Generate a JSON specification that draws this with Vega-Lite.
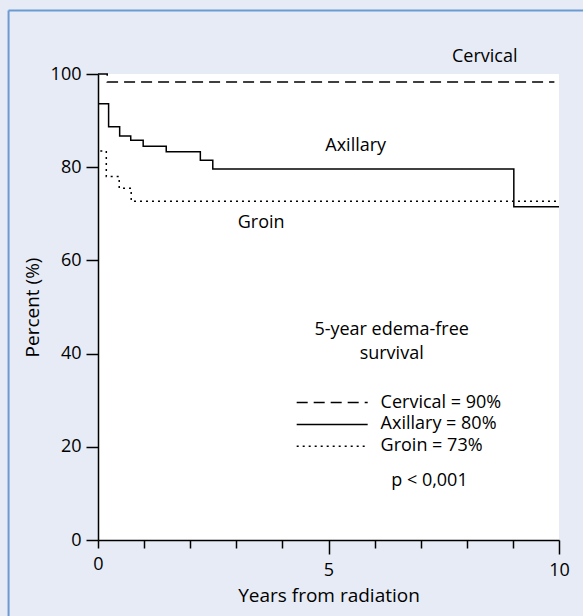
{
  "$schema": "https://vega.github.io/schema/vega-lite/v6.json",
  "autosize": "none",
  "width": 461,
  "height": 466,
  "padding": {"left": 98, "top": 74, "right": 24, "bottom": 76},
  "background": "#e6ebf5",
  "config": {
    "font": "Open Sans",
    "view": {"fill": "white", "stroke": null},
    "axis": {"domainColor": "black", "domainWidth": 1.5, "tickColor": "black", "tickWidth": 1.5, "labelColor": "black", "titleColor": "black", "grid": false, "labelFontSize": 18, "titleFontSize": 19, "titleFontWeight": "normal", "labelFont": "Open Sans", "titleFont": "Open Sans"},
    "text": {"font": "Open Sans", "fontSize": 18, "color": "black"}
  },
  "datasets": {
    "curves": [
      {"series": "Cervical", "years": 0, "pct": 100},
      {"series": "Cervical", "years": 0.2, "pct": 98.3},
      {"series": "Cervical", "years": 9.9, "pct": 98.3},
      {"series": "Axillary", "years": 0, "pct": 93.6},
      {"series": "Axillary", "years": 0.23, "pct": 88.7},
      {"series": "Axillary", "years": 0.47, "pct": 86.7},
      {"series": "Axillary", "years": 0.71, "pct": 85.8},
      {"series": "Axillary", "years": 0.98, "pct": 84.5},
      {"series": "Axillary", "years": 1.48, "pct": 83.3},
      {"series": "Axillary", "years": 2.22, "pct": 81.5},
      {"series": "Axillary", "years": 2.49, "pct": 79.6},
      {"series": "Axillary", "years": 9.02, "pct": 71.5},
      {"series": "Axillary", "years": 10, "pct": 71.5},
      {"series": "Groin", "years": 0.05, "pct": 83.5},
      {"series": "Groin", "years": 0.18, "pct": 78.0},
      {"series": "Groin", "years": 0.46, "pct": 75.5},
      {"series": "Groin", "years": 0.72, "pct": 72.7},
      {"series": "Groin", "years": 10, "pct": 72.7}
    ],
    "labels": [
      {"text": "Cervical", "x": 9.1, "y": 103.6, "align": "right"},
      {"text": "Axillary", "x": 5.59, "y": 84.5, "align": "center"},
      {"text": "Groin", "x": 3.54, "y": 68.1, "align": "center"},
      {"text": "5-year edema-free", "x": 6.37, "y": 45.0, "align": "center"},
      {"text": "survival", "x": 6.37, "y": 40.0, "align": "center"},
      {"text": "Cervical = 90%", "x": 6.13, "y": 29.5, "align": "left"},
      {"text": "Axillary = 80%", "x": 6.13, "y": 24.8, "align": "left"},
      {"text": "Groin = 73%", "x": 6.13, "y": 20.1, "align": "left"},
      {"text": "p < 0,001", "x": 7.19, "y": 12.7, "align": "center"}
    ],
    "legendLines": [
      {"series": "Cervical", "x": 4.31, "x2": 5.85, "y": 29.5},
      {"series": "Axillary", "x": 4.31, "x2": 5.85, "y": 24.8},
      {"series": "Groin", "x": 4.31, "x2": 5.85, "y": 20.1}
    ],
    "frame": [
      {"x": -1.94, "x2": -1.94, "y": 113.6, "y2": -17},
      {"x": -1.94, "x2": 10.6, "y": 113.6, "y2": 113.6}
    ]
  },
  "layer": [
    {
      "data": {"name": "frame"},
      "mark": {"type": "rule", "color": "#6b9bd2", "strokeWidth": 2, "clip": false},
      "encoding": {
        "x": {"field": "x", "type": "quantitative", "scale": {"domain": [0, 10], "nice": false}},
        "x2": {"field": "x2"},
        "y": {"field": "y", "type": "quantitative", "scale": {"domain": [0, 100], "nice": false}},
        "y2": {"field": "y2"}
      }
    },
    {
      "data": {"name": "curves"},
      "mark": {"type": "line", "interpolate": "step-after", "color": "black", "strokeWidth": 1.5},
      "encoding": {
        "x": {"field": "years", "type": "quantitative", "scale": {"domain": [0, 10], "nice": false},
          "axis": {"title": "Years from radiation", "values": [0, 1, 2, 3, 4, 5, 6, 7, 8, 9, 10],
            "labelExpr": "datum.value % 5 === 0 ? datum.label : ''",
            "tickSize": {"condition": {"test": "datum.value === 5 || datum.value === 10", "value": 14}, "value": 8},
            "labelPadding": 7, "titlePadding": 7, "labelFlush": false}},
        "y": {"field": "pct", "type": "quantitative", "scale": {"domain": [0, 100], "nice": false},
          "axis": {"title": "Percent (%)", "values": [0, 20, 40, 60, 80, 100], "tickSize": 12, "labelPadding": 5, "titlePadding": 8}},
        "detail": {"field": "series"},
        "strokeDash": {"field": "series", "type": "nominal", "legend": null,
          "scale": {"domain": ["Cervical", "Axillary", "Groin"], "range": [[11, 6], [1, 0], [2, 4]]}}
      }
    },
    {
      "data": {"name": "legendLines"},
      "mark": {"type": "rule", "color": "black", "strokeWidth": 1.5},
      "encoding": {
        "x": {"field": "x", "type": "quantitative"},
        "x2": {"field": "x2"},
        "y": {"field": "y", "type": "quantitative"},
        "strokeDash": {"field": "series", "type": "nominal", "legend": null,
          "scale": {"domain": ["Cervical", "Axillary", "Groin"], "range": [[11, 6], [1, 0], [2, 4]]}}
      }
    },
    {
      "data": {"name": "labels"},
      "transform": [{"filter": "datum.align === 'center'"}],
      "mark": {"type": "text", "baseline": "middle", "align": "center"},
      "encoding": {
        "x": {"field": "x", "type": "quantitative"},
        "y": {"field": "y", "type": "quantitative"},
        "text": {"field": "text"}
      }
    },
    {
      "data": {"name": "labels"},
      "transform": [{"filter": "datum.align === 'left'"}],
      "mark": {"type": "text", "baseline": "middle", "align": "left"},
      "encoding": {
        "x": {"field": "x", "type": "quantitative"},
        "y": {"field": "y", "type": "quantitative"},
        "text": {"field": "text"}
      }
    },
    {
      "data": {"name": "labels"},
      "transform": [{"filter": "datum.align === 'right'"}],
      "mark": {"type": "text", "baseline": "middle", "align": "right"},
      "encoding": {
        "x": {"field": "x", "type": "quantitative"},
        "y": {"field": "y", "type": "quantitative"},
        "text": {"field": "text"}
      }
    }
  ]
}
